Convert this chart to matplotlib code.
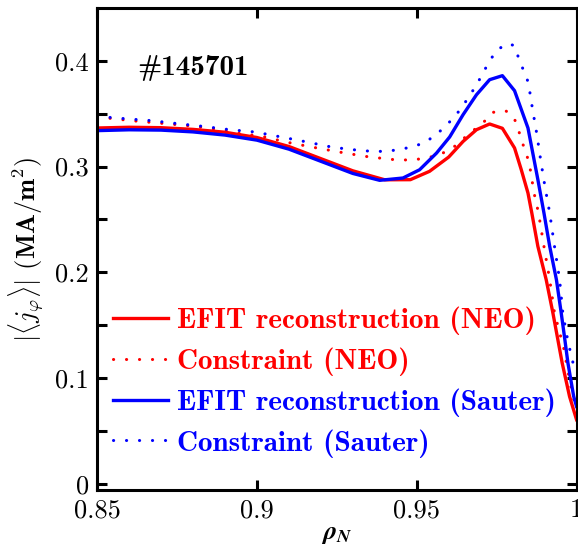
import numpy as np
import matplotlib
matplotlib.use('Agg')
import matplotlib.pyplot as plt

plt.rcParams['font.family'] = 'serif'
plt.rcParams['font.serif'] = ['cmr10']
plt.rcParams['mathtext.fontset'] = 'cm'
plt.rcParams['axes.formatter.use_mathtext'] = True

# EFIT reconstruction (NEO)
rho_efit_neo = [0.850, 0.860, 0.870, 0.880, 0.890, 0.900, 0.910, 0.920, 0.930, 0.940,
                0.948, 0.954, 0.960, 0.9645, 0.9687, 0.9728, 0.9768, 0.9806, 0.9827,
                0.9848, 0.9860, 0.9879, 0.9905, 0.9926, 0.9955, 0.9978, 1.000]
j_efit_neo = [0.3365, 0.3372, 0.3368, 0.3352, 0.3325, 0.3275, 0.3190, 0.3075, 0.2960, 0.2875,
              0.2876, 0.2955, 0.3090, 0.3238, 0.3349, 0.3403, 0.3362, 0.3176, 0.2971,
              0.2750, 0.2561, 0.2245, 0.1930, 0.1615, 0.1142, 0.0826, 0.0605]

# Constraint (NEO)
rho_con_neo = [0.850, 0.8609, 0.8693, 0.8774, 0.8854, 0.8935, 0.9016, 0.9096, 0.9177, 0.9257,
               0.9338, 0.9419, 0.9459, 0.9500, 0.9541, 0.9580, 0.9616, 0.9660, 0.9710, 0.9738,
               0.9778, 0.9804, 0.9818, 0.9830, 0.9844, 0.9854, 0.9867, 0.9881, 0.9898, 0.9916,
               0.9931, 0.9960, 0.9980, 1.000]
j_con_neo = [0.3470, 0.3434, 0.3412, 0.3390, 0.3362, 0.3318, 0.3286, 0.3229, 0.3182, 0.3138,
             0.3097, 0.3068, 0.3062, 0.3068, 0.3088, 0.3125, 0.3185, 0.3300, 0.3422, 0.3513,
             0.3529, 0.3466, 0.3349, 0.3229, 0.3113, 0.2996, 0.2750, 0.2561, 0.2245, 0.1930,
             0.1615, 0.1280, 0.0950, 0.0680]

# EFIT reconstruction (Sauter)
rho_efit_sau = [0.850, 0.860, 0.870, 0.880, 0.890, 0.900, 0.910, 0.920, 0.930, 0.9384,
                0.9457, 0.9509, 0.9562, 0.9603, 0.9645, 0.9687, 0.9728, 0.9768, 0.9806,
                0.9848, 0.9869, 0.9879, 0.9898, 0.9916, 0.9937, 0.9952, 0.9962, 0.9973,
                0.9991, 1.000]
j_efit_sau = [0.3340, 0.3348, 0.3345, 0.3328, 0.3298, 0.3250, 0.3165, 0.3050, 0.2935, 0.2870,
              0.2892, 0.2970, 0.3128, 0.3280, 0.3491, 0.3680, 0.3822, 0.3860, 0.3718,
              0.3365, 0.3034, 0.2876, 0.2561, 0.2245, 0.1930, 0.1615, 0.1394, 0.1142,
              0.0826, 0.0730]

# Constraint (Sauter)
rho_con_sau = [0.850, 0.8588, 0.8672, 0.8753, 0.8833, 0.8915, 0.8995, 0.9076, 0.9156, 0.9238,
               0.9321, 0.9362, 0.9402, 0.9444, 0.9483, 0.9523, 0.9556, 0.9588, 0.9616, 0.9642,
               0.9663, 0.9687, 0.9705, 0.9726, 0.9747, 0.9780, 0.9804, 0.9819, 0.9834, 0.9849,
               0.9862, 0.9876, 0.9888, 0.9901, 0.9916, 0.9931, 0.9947, 0.9957, 0.9973, 0.9989,
               1.000]
j_con_sau = [0.3475, 0.3453, 0.3434, 0.3406, 0.3380, 0.3349, 0.3327, 0.3280, 0.3233, 0.3182,
             0.3153, 0.3144, 0.3144, 0.3160, 0.3185, 0.3223, 0.3292, 0.3374, 0.3466, 0.3560,
             0.3664, 0.3768, 0.3876, 0.3986, 0.4090, 0.4163, 0.4147, 0.4027, 0.3910, 0.3797,
             0.3548, 0.3302, 0.3056, 0.2813, 0.2561, 0.2245, 0.1930, 0.1615, 0.1346, 0.1142,
             0.1050]

xticks = [0.85, 0.9, 0.95, 1.0]
xticklabels = ['0.85', '0.9', '0.95', '1']
yticks = [0, 0.1, 0.2, 0.3, 0.4]
yticklabels = ['0', '0.1', '0.2', '0.3', '0.4']

fig = plt.figure(figsize=(5.78, 5.54), dpi=100)
ax = fig.add_axes([0.168, 0.1155, 0.8295, 0.870])

dot = (0, (0.05, 4.2))
ax.plot(rho_efit_neo, j_efit_neo, color='red', lw=2.4, label='EFIT reconstruction (NEO)')
ax.plot(rho_con_neo, j_con_neo, color='red', lw=2.2, ls=dot, dash_capstyle='round',
        label='Constraint (NEO)')
ax.plot(rho_efit_sau, j_efit_sau, color='blue', lw=2.4, label='EFIT reconstruction (Sauter)')
ax.plot(rho_con_sau, j_con_sau, color='blue', lw=2.2, ls=dot, dash_capstyle='round',
        label='Constraint (Sauter)')

ax.set_xlim(0.85, 1.0)
ax.set_ylim(-0.006, 0.45)
ax.set_xticks(xticks)
ax.set_xticklabels(xticklabels)
ax.set_yticks(yticks)
ax.set_yticklabels(yticklabels)
ax.set_yticks(np.arange(0.05, 0.45, 0.1), minor=True)
ax.tick_params(which='both', direction='in', top=True, right=True, length=7, width=2.2,
               labelsize=19, pad=6)
for s in ax.spines.values():
    s.set_linewidth(2.2)

ax.text(0.083, 0.876, '#145701', transform=ax.transAxes, fontsize=21, family='cmb10',
        va='center', ha='left')

ax.set_ylabel(r'$|\langle j_{\varphi}\rangle|$ $\mathbf{(MA/m^2)}$', fontsize=19, labelpad=6)
ax.set_xlabel(r'$\mathbfit{\rho_N}$', fontsize=19, math_fontfamily='stix', labelpad=0)

leg = ax.legend(loc='lower left', bbox_to_anchor=(-0.01, 0.025), frameon=False,
                prop={'family': 'cmb10', 'size': 21}, handlelength=1.9,
                handletextpad=0.3, labelspacing=0.42, borderaxespad=0.3)
for t, c in zip(leg.get_texts(), ['red', 'red', 'blue', 'blue']):
    t.set_color(c)

fig.savefig('out.png', dpi=100)
